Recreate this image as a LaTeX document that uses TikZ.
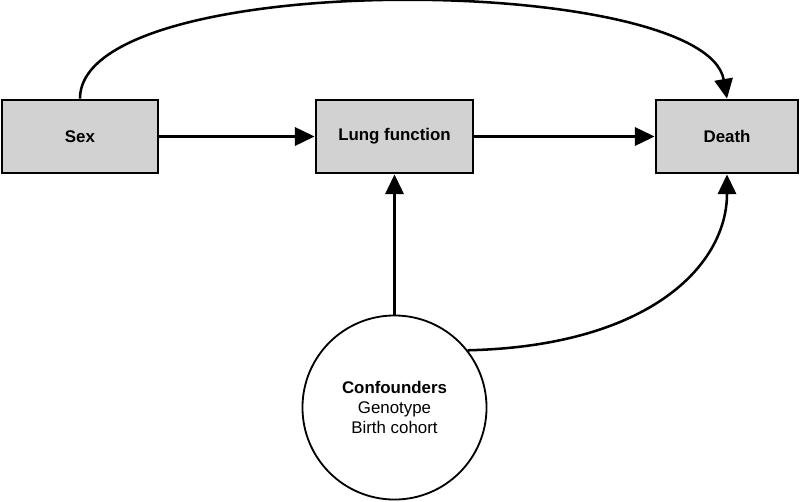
\documentclass[tikz,border=0pt]{standalone}
\usepackage{fontspec}
\setmainfont{Liberation Sans}
\usepackage{tikz}
\usetikzlibrary{arrows.meta,positioning}
\definecolor{BoxFill}{HTML}{D2D2D2}

\begin{document}
\begin{tikzpicture}[
    x=0.025cm,y=-0.025cm,
    varbox/.style={draw=black, line width=2pt, fill=BoxFill,
      minimum height=1.825cm, inner sep=0pt,
      font=\fontsize{12}{14}\selectfont\bfseries},
    confnode/.style={circle, draw=black, line width=1.3pt, fill=white,
      minimum size=4.6cm, inner sep=0pt, align=center,
      font=\fontsize{12}{14}\selectfont},
    link/.style={line width=1.8pt, -{Triangle[length=14pt,width=13pt]}}
  ]
    \useasboundingbox (0,0) rectangle (800,501);

    \node[varbox, minimum width=3.9cm] (sex) at (80,136.5) {Sex};
    \node[varbox, minimum width=3.925cm] (lung) at (394.5,136.5) {Lung function};
    \node[varbox, minimum width=3.55cm] (death) at (727,136.5) {Death};
    \node[confnode] (conf) at (394.5,407.5)
      {\textbf{Confounders}\\Genotype\\Birth cohort};

    \draw[link] (sex) -- (lung);
    \draw[link] (lung) -- (death);
    \draw[link] (conf) -- (lung);

    \draw[link] (sex.north) .. controls (80,-33) and (705,-27) .. (death.north);
    \draw[link] (conf.38) .. controls (650,346) and (727,265) .. (death.south);
  \end{tikzpicture}
\end{document}
